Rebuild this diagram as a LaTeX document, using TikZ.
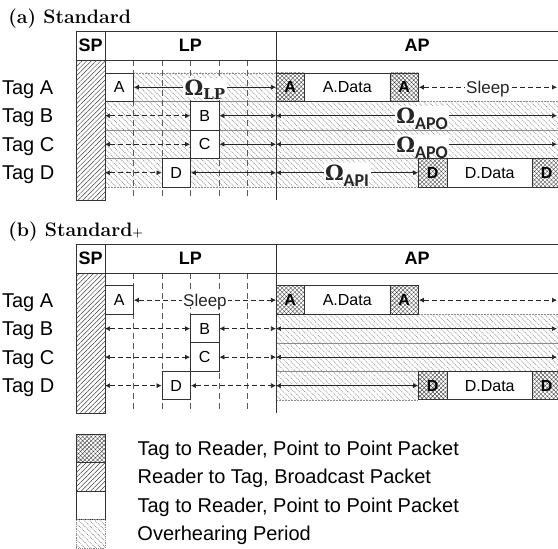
\documentclass[tikz,border=0pt]{standalone}
\usepackage[no-math]{fontspec}
\newfontfamily\arial{Liberation Sans}
\newfontfamily\carlito{Carlito}
\newfontfamily\dvserif{DejaVu Serif}
\usetikzlibrary{arrows.meta, patterns.meta, positioning}

\newcommand{\omglp}{\dvserif\bfseries Ω\raisebox{-4pt}{\fontsize{15}{15}\selectfont LP}}
\newcommand{\omgsub}[1]{\dvserif\bfseries Ω\raisebox{-6pt}{\carlito\bfseries\fontsize{18}{18}\selectfont #1}}

\tikzset{
  hline/.style={draw=black!80, line width=0.8pt},
  slot/.style={black!65, line width=0.6pt, dash pattern=on 6pt off 4pt},
  spbar/.style={draw=black!80, line width=0.8pt, pattern={Lines[angle=45,distance=3.3pt,line width=0.5pt]}, pattern color=black!75},
  hear/.style={draw=black!45, densely dotted, line width=0.5pt, pattern={Lines[angle=-45,distance=3.8pt,line width=0.7pt]}, pattern color=black!50},
  pkt/.style={draw=black!80, fill=white, line width=0.8pt, minimum width=28.5pt, minimum height=28.5pt, inner sep=0pt, font=\arial\fontsize{16}{18}\selectfont},
  dpkt/.style={pkt, minimum width=85.5pt},
  tpkt/.style={pkt, preaction={fill=white}, pattern={Hatch[angle=45,distance=3pt,line width=0.4pt]}, pattern color=black!70, font=\arial\bfseries\fontsize{16}{18}\selectfont},
  arr/.style={{Latex[length=5pt,width=5pt]}-{Latex[length=5pt,width=5pt]}, black!85, line width=0.7pt},
  darr/.style={arr, dash pattern=on 5pt off 3pt},
  hdr/.style={inner sep=0pt, font=\arial\bfseries\fontsize{18}{20}\selectfont},
  tag/.style={anchor=west, inner sep=0pt, text height=14.3pt, text depth=0pt, font=\arial\fontsize{20}{24}\selectfont},
  ltxt/.style={tag},
  ttl/.style={anchor=base west, inner sep=0pt, font=\bfseries\fontsize{19.5}{22}\selectfont},
  omg/.style={fill=white, inner sep=1.5pt, text depth=0pt, font=\fontsize{21}{24}\selectfont},
  slp/.style={fill=white, inner sep=1pt, text depth=0pt, font=\arial\fontsize{17}{20}\selectfont}
}

\begin{document}
\begin{tikzpicture}[x=28.5pt, y=-28.5pt]
\useasboundingbox (-3.684,-2.561) rectangle (15.895,16.702);

%%%%% (a) Standard
\node[ttl] (a-ttl) at (-3.40,-1.72) {(a) Standard};
% Overhearing periods
\path[hear] (1,0) rectangle (6,1);
\path[hear] (0,1) rectangle (16,2);
\path[hear] (0,2) rectangle (16,3);
\path[hear] (0,3) rectangle (11,4);
% SP column and slot lines
\path[spbar] (-1,-0.45) rectangle (0,4.46);
\foreach \x in {1,...,5} \draw[slot] (\x,-0.45) -- (\x,4.46);
\draw[hline] (6,-1.47) -- (6,4.46);
% Header
\draw[hline] (16,-1.47) -- (-1,-1.47) -- (-1,-0.45) -- (16,-0.45);
\draw[hline] (0,-1.47) -- (0,-0.45);
\node[hdr] (a-sp) at (-0.5,-0.96) {SP};
\node[hdr] (a-lp) at (3,-0.96) {LP};
\node[hdr] (a-ap) at (10.95,-0.96) {AP};
% Tags and row ends
\foreach \r/\t in {0/A,1/B,2/C,3/D}{
  \node[tag] (a-tag\t) at (-3.62,\r+.5) {Tag \t};
  \coordinate (a-\r-l) at (0,\r+.5);
  \coordinate (a-\r-m) at (6,\r+.5);
  \coordinate (a-\r-r) at (15.86,\r+.5);
}
% Packets in LP
\node[pkt] (a-A) at (0.5,0.5) {A};
\node[pkt] (a-B) at (3.5,1.5) {B};
\node[pkt] (a-C) at (3.5,2.5) {C};
\node[pkt] (a-D) at (2.5,3.5) {D};
% Packets in AP
\node[tpkt] (a-A1) at (6.5,0.5) {A};
\node[dpkt] (a-Ad) at (8.5,0.5) {A.Data};
\node[tpkt] (a-A2) at (10.5,0.5) {A};
\node[tpkt] (a-D1) at (11.5,3.5) {D};
\node[dpkt] (a-Dd) at (13.5,3.5) {D.Data};
\node[tpkt] (a-D2) at (15.5,3.5) {D};
% Periods
\draw[arr] (a-A.east) -- node[omg] {\omglp} (a-0-m);
\draw[darr] (a-A2.east) -- node[slp] {Sleep} (a-0-r);
\draw[darr] (a-1-l) -- (a-B.west);
\draw[arr] (a-B.east) -- (a-1-m);
\draw[arr] (a-1-m) -- node[omg,pos=.52] {\omgsub{APO}} (a-1-r);
\draw[darr] (a-2-l) -- (a-C.west);
\draw[arr] (a-C.east) -- (a-2-m);
\draw[arr] (a-2-m) -- node[omg,pos=.52] {\omgsub{APO}} (a-2-r);
\draw[darr] (a-3-l) -- (a-D.west);
\draw[arr] (a-D.east) -- (a-3-m);
\draw[arr] (a-3-m) -- node[omg] {\omgsub{API}} (a-D1.west);

%%%%% (b) Standard+
\begin{scope}[shift={(0,7.47)}]
\node[ttl] (b-ttl) at (-3.40,-1.72) {(b) Standard{\fontsize{12}{12}\selectfont+}};
% Overhearing periods
\path[hear] (6,1) rectangle (16,2);
\path[hear] (6,2) rectangle (16,3);
\path[hear] (6,3) rectangle (11,4);
% SP column and slot lines
\path[spbar] (-1,-0.45) rectangle (0,4.46);
\foreach \x in {1,...,5} \draw[slot] (\x,-0.45) -- (\x,4.46);
\draw[hline] (6,-1.47) -- (6,4.46);
% Header
\draw[hline] (16,-1.47) -- (-1,-1.47) -- (-1,-0.45) -- (16,-0.45);
\draw[hline] (0,-1.47) -- (0,-0.45);
\node[hdr] (b-sp) at (-0.5,-0.96) {SP};
\node[hdr] (b-lp) at (3,-0.96) {LP};
\node[hdr] (b-ap) at (10.95,-0.96) {AP};
% Tags and row ends
\foreach \r/\t in {0/A,1/B,2/C,3/D}{
  \node[tag] (b-tag\t) at (-3.62,\r+.5) {Tag \t};
  \coordinate (b-\r-l) at (0,\r+.5);
  \coordinate (b-\r-m) at (6,\r+.5);
  \coordinate (b-\r-r) at (15.86,\r+.5);
}
% Packets in LP
\node[pkt] (b-A) at (0.5,0.5) {A};
\node[pkt] (b-B) at (3.5,1.5) {B};
\node[pkt] (b-C) at (3.5,2.5) {C};
\node[pkt] (b-D) at (2.5,3.5) {D};
% Packets in AP
\node[tpkt] (b-A1) at (6.5,0.5) {A};
\node[dpkt] (b-Ad) at (8.5,0.5) {A.Data};
\node[tpkt] (b-A2) at (10.5,0.5) {A};
\node[tpkt] (b-D1) at (11.5,3.5) {D};
\node[dpkt] (b-Dd) at (13.5,3.5) {D.Data};
\node[tpkt] (b-D2) at (15.5,3.5) {D};
% Periods
\draw[darr] (b-A.east) -- node[slp] {Sleep} (b-0-m);
\draw[darr] (b-A2.east) -- (b-0-r);
\draw[darr] (b-1-l) -- (b-B.west);
\draw[darr] (b-B.east) -- (b-1-m);
\draw[arr] (b-1-m) -- (b-1-r);
\draw[darr] (b-2-l) -- (b-C.west);
\draw[darr] (b-C.east) -- (b-2-m);
\draw[arr] (b-2-m) -- (b-2-r);
\draw[darr] (b-3-l) -- (b-D.west);
\draw[darr] (b-D.east) -- (b-3-m);
\draw[arr] (b-3-m) -- (b-D1.west);
\end{scope}

%%%%% Legend
\node[tpkt] (lg-t) at (-0.5,13.17) {};
\node[pkt, spbar] (lg-r) at (-0.5,14.17) {};
\node[pkt] (lg-w) at (-0.5,15.17) {};
\node[pkt, hear] (lg-o) at (-0.5,16.17) {};
\node[ltxt, right=32pt of lg-t] (lg-t-txt) {Tag to Reader, Point to Point Packet};
\node[ltxt, right=32pt of lg-r] (lg-r-txt) {Reader to Tag, Broadcast Packet};
\node[ltxt, right=32pt of lg-w] (lg-w-txt) {Tag to Reader, Point to Point Packet};
\node[ltxt, right=32pt of lg-o] (lg-o-txt) {Overhearing Period};
\end{tikzpicture}
\end{document}
